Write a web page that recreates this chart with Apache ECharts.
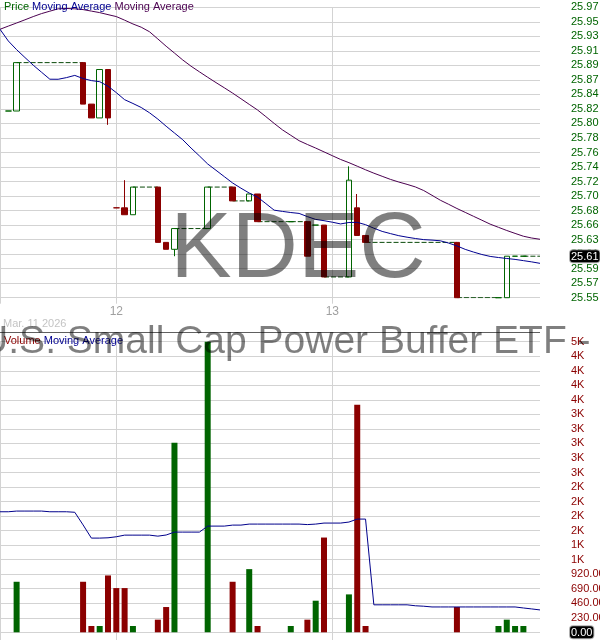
<!DOCTYPE html>
<html><head><meta charset="utf-8">
<script src="https://cdn.jsdelivr.net/npm/echarts@6/dist/echarts.min.js"></script>
<style>html,body{margin:0;padding:0;background:#fff}#c{width:600px;height:640px}</style>
</head><body><div id="c"></div>
<script>
// ---- categories: 15-minute slots (last 14 of Mar 11, all of Mar 12, all of Mar 13)
const sessionTimes = ['09:30','09:45','10:00','10:15','10:30','10:45','11:00','11:15','11:30','11:45','12:00','12:15','12:30','12:45','13:00','13:15','13:30','13:45','14:00','14:15','14:30','14:45','15:00','15:15','15:30','15:45'];
const categories = []
  .concat(sessionTimes.slice(12).map(t => '03-11 ' + t))
  .concat(sessionTimes.map(t => '03-12 ' + t))
  .concat(sessionTimes.map(t => '03-13 ' + t));
const dayTickLabels = {14: '12', 40: '13'};
const dateLabel = 'Mar. 11 2026';

// ---- traded bars (slot index, OHLC, volume)
const candleIdx = [1,2,10,11,12,13,14,15,16,19,20,21,25,28,30,31,35,37,38,39,42,43,44,55,60,61,62,63];
const openP  = [25.82,25.82,25.89,25.83,25.81,25.88,25.68,25.68,25.67,25.71,25.63,25.62,25.65,25.71,25.69,25.70,25.66,25.66,25.655,25.655,25.58,25.68,25.64,25.63,25.55,25.55,25.61,25.61];
const closeP = [25.82,25.89,25.83,25.81,25.88,25.81,25.68,25.67,25.71,25.63,25.62,25.65,25.71,25.69,25.70,25.66,25.66,25.61,25.655,25.58,25.72,25.64,25.63,25.55,25.55,25.61,25.61,25.61];
const lowP   = [25.82,25.82,25.83,25.81,25.81,25.80,25.68,25.67,25.67,25.63,25.62,25.61,25.65,25.69,25.69,25.66,25.66,25.61,25.655,25.58,25.58,25.64,25.63,25.55,25.55,25.55,25.61,25.61];
const highP  = [25.82,25.89,25.89,25.83,25.88,25.88,25.68,25.72,25.71,25.71,25.63,25.65,25.71,25.71,25.70,25.70,25.66,25.66,25.655,25.655,25.74,25.70,25.64,25.63,25.55,25.61,25.61,25.61];
const volume = [0,800,800,100,100,900,700,700,100,200,400,3000,4600,800,1000,100,100,200,500,1500,600,3600,100,400,100,200,100,100];

// ---- moving averages (one value per slot)
const priceMA1 = [25.9382,25.9213,25.9087,25.8974,25.8863,25.8761,25.8660,25.8659,25.8683,25.8715,25.8670,25.8640,25.8624,25.8559,25.8466,25.8364,25.8309,25.8251,25.8174,25.8083,25.7980,25.7882,25.7784,25.7664,25.7551,25.7434,25.7343,25.7251,25.7159,25.7084,25.7014,25.6955,25.6861,25.6766,25.6748,25.6732,25.6719,25.6673,25.6632,25.6614,25.6592,25.6567,25.6588,25.6590,25.6556,25.6505,25.6459,25.6427,25.6397,25.6375,25.6356,25.6340,25.6333,25.6323,25.6290,25.6249,25.6199,25.6160,25.6125,25.6097,25.6081,25.6067,25.6054,25.6036,25.6018,25.5997];
const priceMA2 = [25.9382,25.9428,25.9473,25.9519,25.9566,25.9609,25.9644,25.9678,25.9683,25.9678,25.9667,25.9645,25.9623,25.9594,25.9566,25.9514,25.9459,25.9412,25.9346,25.9242,25.9137,25.9038,25.8938,25.8848,25.8767,25.8688,25.8611,25.8536,25.8459,25.8378,25.8296,25.8215,25.8119,25.8021,25.7927,25.7849,25.7771,25.7716,25.7664,25.7609,25.7554,25.7499,25.7453,25.7402,25.7350,25.7301,25.7256,25.7211,25.7173,25.7139,25.7102,25.7050,25.6981,25.6910,25.6851,25.6790,25.6734,25.6677,25.6621,25.6564,25.6518,25.6472,25.6430,25.6389,25.6363,25.6345];
const volumeMA = [1908,1908,1919,1919,1919,1919,1908,1908,1908,1900,1700,1491,1491,1496,1512,1538,1538,1538,1538,1522,1540,1586,1586,1586,1586,1681,1681,1681,1697,1697,1713,1713,1713,1713,1713,1713,1713,1705,1713,1729,1729,1729,1745,1792,1792,435,435,435,435,435,420,413,401,401,401,401,401,401,401,401,401,401,401,385,370,354];

// ---- axis ticks
const priceMin = 25.55, priceMax = 25.97, priceStep = 0.021;
const volMin = 0, volMax = 4600, volStep = 230;

const UP = '#006400', DOWN = '#8B0000';
const FONT = '"Liberation Sans", Arial, sans-serif';
const fmtPrice = v => (Math.round(v * 100 + 1e-6) / 100).toFixed(2);
const fmtVol = v => v >= 1000 ? Math.round(v / 1000) + 'K' : Number(v).toFixed(2);

// build per-slot series
const N = categories.length;
const candleData = categories.map(() => ['-','-','-','-']);
const volData = categories.map(() => '-');
candleIdx.forEach((ix, k) => {
  const isUp = k === 0 ? true : closeP[k] >= closeP[k - 1];
  const col = isUp ? UP : DOWN;
  const item = {value: [openP[k], closeP[k], lowP[k], highP[k]]};
  if (openP[k] === closeP[k]) item.itemStyle = {borderColor: col, borderColor0: col, color: col, color0: col};
  candleData[ix] = item;
  if (volume[k] > 0) volData[ix] = {value: volume[k], itemStyle: {color: col}};
});
const gapData = [];
candleIdx.forEach((a, k) => {
  const b = k + 1 < candleIdx.length ? candleIdx[k + 1] : N - 1;
  if (b - a > 1) gapData.push([a, closeP[k]], [b, closeP[k]], [b, '-']);
});
const lastClose = closeP[closeP.length - 1];
const lastVol = 0;

const isDayLine = i => i === 0 || (i in dayTickLabels);
const gridLine = {color: '#d3d3d3', width: 1};

const chart = echarts.init(document.getElementById('c'), null, {renderer: 'canvas'});
chart.setOption({
  animation: false,
  backgroundColor: '#fff',
  grid: [
    {left: 0, right: 60, top: 7.3, height: 290.4, outerBoundsMode: 'none', containLabel: false},
    {left: 0, right: 60, top: 341.7, height: 290.6, outerBoundsMode: 'none', containLabel: false}
  ],
  xAxis: [
    {type: 'category', gridIndex: 0, data: categories, boundaryGap: false,
     axisLine: {show: false},
     axisTick: {show: true, interval: isDayLine, length: 6, lineStyle: gridLine},
     splitLine: {show: true, interval: isDayLine, lineStyle: gridLine},
     axisLabel: {show: true, interval: i => (i in dayTickLabels), formatter: (v, i) => dayTickLabels[i] || '',
                 color: '#a0a0a0', fontSize: 12, fontFamily: FONT, margin: 8}},
    {type: 'category', gridIndex: 1, data: categories, boundaryGap: false,
     axisLine: {show: false},
     axisTick: {show: true, interval: isDayLine, length: 8, lineStyle: gridLine},
     splitLine: {show: true, interval: isDayLine, lineStyle: gridLine},
     axisLabel: {show: false}}
  ],
  yAxis: [
    {type: 'value', gridIndex: 0, position: 'right', min: priceMin, max: priceMax, interval: priceStep,
     axisLine: {show: false}, axisTick: {show: false},
     splitLine: {show: true, lineStyle: gridLine},
     axisLabel: {color: '#006400', fontSize: 11, fontFamily: FONT, margin: 31, formatter: fmtPrice},
     axisPointer: {show: true, status: 'show', value: lastClose, snap: false, triggerTooltip: false,
       lineStyle: {opacity: 0},
       label: {show: true, formatter: p => fmtPrice(p.value), backgroundColor: '#000', color: '#fff',
               borderColor: '#b0b0b0', borderWidth: 1, padding: [1, 1, 0, 1], margin: 30,
               fontSize: 11, fontFamily: FONT}}},
    {type: 'value', gridIndex: 1, position: 'right', min: volMin, max: volMax, interval: volStep,
     axisLine: {show: false}, axisTick: {show: false},
     splitLine: {show: true, lineStyle: gridLine},
     axisLabel: {color: '#8B0000', fontSize: 11, fontFamily: FONT, margin: 31, formatter: fmtVol},
     axisPointer: {show: true, status: 'show', value: lastVol, snap: false, triggerTooltip: false,
       lineStyle: {opacity: 0},
       label: {show: true, formatter: p => fmtVol(p.value), backgroundColor: '#000', color: '#fff',
               borderColor: '#b0b0b0', borderWidth: 1, padding: [1, 1, 0, 1], margin: 30,
               fontSize: 11, fontFamily: FONT}}}
  ],
  series: [
    {type: 'line', name: 'flat', xAxisIndex: 0, yAxisIndex: 0, data: gapData, symbol: 'none',
     connectNulls: false, lineStyle: {color: '#0a4a0a', width: 1, type: [5, 2]}, z: 1, silent: true},
    {type: 'candlestick', name: 'Price', xAxisIndex: 0, yAxisIndex: 0, data: candleData, barWidth: 6,
     itemStyle: {color: 'rgba(0,0,0,0)', color0: DOWN, borderColor: UP, borderColor0: DOWN, borderWidth: 1},
     z: 2, silent: true},
    {type: 'line', name: 'MA long', xAxisIndex: 0, yAxisIndex: 0, data: priceMA2, symbol: 'none',
     lineStyle: {color: '#4b0050', width: 1}, z: 3, silent: true},
    {type: 'line', name: 'MA short', xAxisIndex: 0, yAxisIndex: 0, data: priceMA1, symbol: 'none',
     lineStyle: {color: '#000090', width: 1}, z: 3, silent: true},
    {type: 'bar', name: 'Volume', xAxisIndex: 1, yAxisIndex: 1, data: volData, barWidth: 6, z: 2, silent: true},
    {type: 'line', name: 'Volume MA', xAxisIndex: 1, yAxisIndex: 1, data: volumeMA, symbol: 'none',
     lineStyle: {color: '#00008B', width: 1}, z: 3, silent: true}
  ],
  graphic: [
    {type: 'line', silent: true, z: 50, shape: {x1: 0, y1: 332.5, x2: 540, y2: 332.5},
     style: {stroke: '#606060', lineWidth: 1}},
    {type: 'text', silent: true, z: 60, x: 4, y: 7,
     style: {text: '{g|Price} {b|Moving Average} {p|Moving Average}', font: '11px ' + FONT,
             verticalAlign: 'middle', textVerticalAlign: 'middle',
             rich: {g: {fill: '#006400', font: '11px ' + FONT}, b: {fill: '#000090', font: '11px ' + FONT}, p: {fill: '#4b0050', font: '11px ' + FONT}}}},
    {type: 'text', silent: true, z: 60, x: 4, y: 341,
     style: {text: '{r|Volume} {b|Moving Average}', font: '11px ' + FONT,
             verticalAlign: 'middle', textVerticalAlign: 'middle',
             rich: {r: {fill: '#8B0000', font: '11px ' + FONT}, b: {fill: '#000090', font: '11px ' + FONT}}}},
    {type: 'text', silent: true, z: 60, x: 3, y: 324,
     style: {text: dateLabel, fill: '#c4c4c4', font: '11px ' + FONT, verticalAlign: 'middle', textVerticalAlign: 'middle'}},
    {type: 'text', silent: true, z: 100, x: 298, y: 252,
     style: {text: 'KDEC', fill: 'rgba(0,0,0,0.5)', font: '92px ' + FONT,
             align: 'center', textAlign: 'center', verticalAlign: 'middle', textVerticalAlign: 'middle'}},
    {type: 'text', silent: true, z: 100, x: 294, y: 342,
     style: {text: 'Innovator U.S. Small Cap Power Buffer ETF - December', fill: 'rgba(0,0,0,0.5)', font: '39px ' + FONT,
             align: 'center', textAlign: 'center', verticalAlign: 'middle', textVerticalAlign: 'middle'}}
  ]
});
</script></body></html>
